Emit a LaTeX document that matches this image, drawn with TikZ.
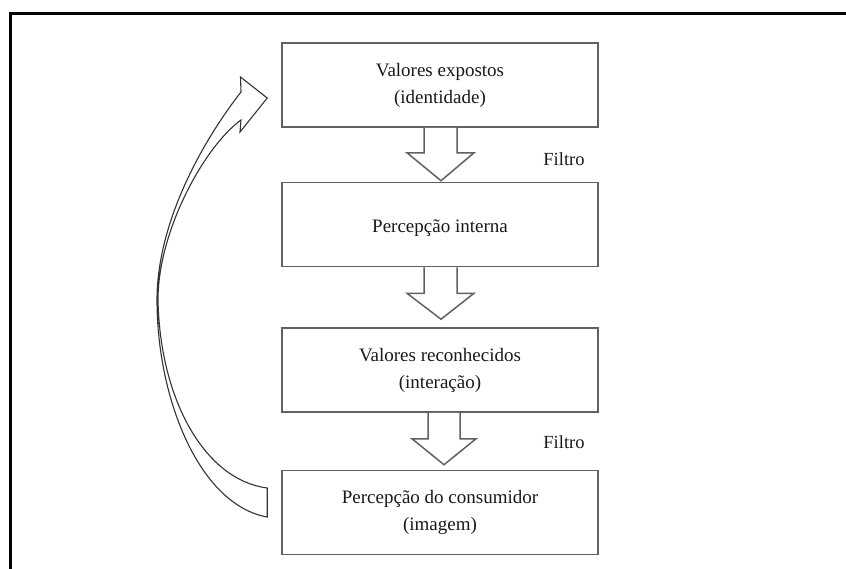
\documentclass[tikz,border=0pt]{standalone}
\usepackage{fontspec}
\setmainfont{Liberation Serif}
\usetikzlibrary{calc}
\tikzset{
  box/.style={draw=black!62, line width=1.6pt, minimum width=316pt, minimum height=84pt,
    inner sep=0pt, align=center, font=\fontsize{19}{27}\selectfont, text=black!90,
    execute at begin node={\rule{0pt}{21pt}}},
  lbl/.style={inner sep=0pt, font=\fontsize{18.5}{22}\selectfont, text=black!90},
  barrow/.style={draw=black!62, line width=1.5pt, line join=miter, fill=white},
  fbarrow/.style={draw=black!80, line width=1.1pt, line join=miter, fill=white},
  frame/.style={draw=black, line width=3pt}
}
\begin{document}
\begin{tikzpicture}[x=1pt,y=-1pt]
\useasboundingbox (0,0) rectangle (846,568);
\draw[frame] (850,13) -- (10,13) -- (10,575);

\node[box] (b1) at (440,85) {Valores expostos\\(identidade)};
\node[box] (b2) at (440,224.5) {Percepção interna};
\node[box] (b3) at (440,370) {Valores reconhecidos\\(interação)};
\node[box] (b4) at (440,512.5) {Percepção do consumidor\\(imagem)};

\node[lbl] (f1) at (564,159) {Filtro};
\node[lbl] (f2) at (564,442) {Filtro};

% block arrows
\draw[barrow] ($(b1.south)+(-16,0)$) -- ++(0,25) -- ++(-17,0) -- ($(b2.north)+(1,-1)$)
  -- ($(b1.south)+(34,25)$) -- ++(-17,0) -- ++(0,-25);
\draw[barrow] ($(b2.south)+(-16,0)$) -- ++(0,26) -- ++(-17,0) -- ($(b3.north)+(1,-8)$)
  -- ($(b2.south)+(34,26)$) -- ++(-17,0) -- ++(0,-26);
\draw[barrow] ($(b3.south)+(-12,0)$) -- ++(0,26) -- ++(-16,0) -- ($(b4.north)+(4,-5)$)
  -- ($(b3.south)+(36,26)$) -- ++(-16,0) -- ++(0,-26);

% feedback curved arrow from b4 to b1
\coordinate (fbi) at ($(b4.west)+(-14,-24.5)$);
\coordinate (fbo) at ($(b4.west)+(-14,4.5)$);
\coordinate (tip) at ($(b1.west)+(-14,13)$);
\draw[fbarrow] (fbi) -- (fbo)
  .. controls (200,505) and (157,400) .. (157,300)
  .. controls (157,220) and (205,138) .. (241,92)
  -- (240.5,77) -- (tip) -- (240,132) -- (241,120)
  .. controls (205,146) and (158,230) .. (158,300)
  .. controls (160,400) and (205,480) .. (fbi) -- cycle;
\end{tikzpicture}
\end{document}
